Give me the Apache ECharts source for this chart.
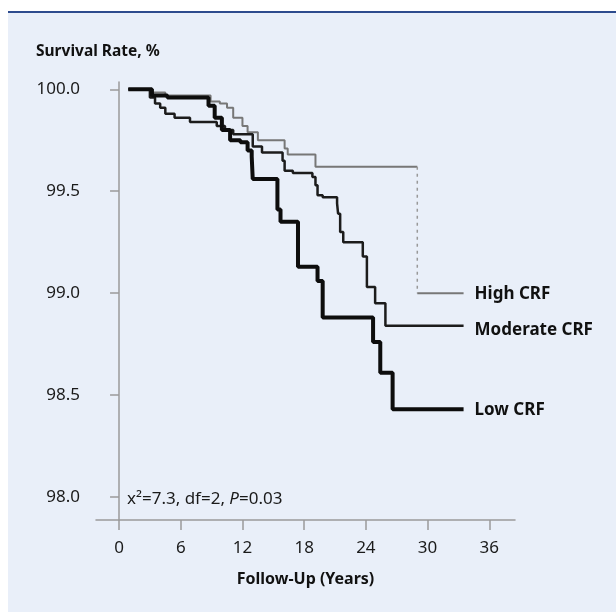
<!DOCTYPE html>
<html>
<head>
<meta charset="utf-8">
<script src="https://cdn.jsdelivr.net/npm/echarts@6/dist/echarts.min.js"></script>
<style>
  html, body { margin: 0; padding: 0; background: #fff; }
  .chart { width: 616px; height: 612px; }
</style>
</head>
<body>
<div class="chart"></div>
<script>
// 生存曲线数据（年份, 生存率%）
var lowYears = [0.9, 3.2, 4.7, 8.7, 9.3, 10.0, 10.8, 11.8, 12.5, 12.9, 13.0, 15.4, 15.7, 17.4, 19.3, 19.8, 24.7, 25.4, 26.6, 33.5];
var lowSurv  = [100.0, 99.97, 99.96, 99.92, 99.86, 99.80, 99.75, 99.74, 99.70, 99.67, 99.56, 99.41, 99.35, 99.13, 99.06, 98.88, 98.76, 98.61, 98.43, 98.43];

var modYears = [0.9, 3.0, 3.5, 4.0, 4.5, 5.4, 6.9, 9.5, 10.3, 11.1, 13.0, 13.9, 15.9, 16.1, 16.9, 18.8, 19.1, 19.3, 19.8, 21.2, 21.3, 21.5, 21.8, 23.7, 24.1, 24.9, 25.9, 33.5];
var modSurv  = [100.0, 99.96, 99.93, 99.91, 99.88, 99.86, 99.84, 99.82, 99.80, 99.78, 99.72, 99.69, 99.65, 99.60, 99.59, 99.57, 99.53, 99.48, 99.47, 99.44, 99.39, 99.30, 99.25, 99.18, 99.03, 98.95, 98.84, 98.84];

var highYears = [0.9, 3.2, 4.5, 8.9, 9.8, 10.5, 11.1, 12.0, 12.5, 13.5, 16.1, 16.4, 19.1, 29.0, 33.5];
var highSurv  = [100.0, 99.985, 99.97, 99.94, 99.93, 99.91, 99.86, 99.82, 99.79, 99.75, 99.71, 99.68, 99.62, 99.00, 99.00];

var xTicks = [0, 6, 12, 18, 24, 30, 36];
var yTicks = [98.0, 98.5, 99.0, 99.5, 100.0];

function pairs(xs, ys) {
    var out = [];
    for (var i = 0; i < xs.length; i++) out.push([xs[i], ys[i]]);
    return out;
}

// High CRF 拆成三段：实线主体、虚线下降、末端水平
var k = highYears.length - 2;
var highMain = pairs(highYears.slice(0, k), highSurv.slice(0, k));
highMain.push([highYears[k], highSurv[k - 1]]);
var highDrop = [[highYears[k], highSurv[k - 1]], [highYears[k], highSurv[k]]];
var highTail = [[highYears[k], highSurv[k]], [highYears[k + 1], highSurv[k + 1]]];

var labelFont = { fontFamily: 'Noto Sans', fontWeight: 'bold', fontSize: 17, color: '#111' };

var myChart = echarts.init(document.querySelector('.chart'));
var option = {
    animation: false,
    graphic: [
        { type: 'rect', shape: { x: 8, y: 12, width: 608, height: 600 }, style: { fill: '#e9eff9' }, z: -10 },
        { type: 'rect', shape: { x: 8, y: 11, width: 608, height: 2 }, style: { fill: '#2d4b8e' }, z: -9 }
    ],
    title: [
        {
            text: 'Survival Rate, %',
            left: 31, top: 39,
            textStyle: { fontFamily: 'Noto Sans', fontWeight: 'bold', fontSize: 15.5, color: '#111' }
        },
        {
            text: '{n|x²=7.3, df=2, }{i|P}{n|=0.03}',
            left: 122, top: 486,
            textStyle: {
                fontWeight: 'normal',
                rich: {
                    n: { fontFamily: 'Noto Sans', fontWeight: 'normal', fontSize: 17, color: '#1a1a1a' },
                    i: { fontFamily: 'Noto Sans', fontWeight: 'normal', fontSize: 17, fontStyle: 'italic', color: '#1a1a1a' }
                }
            }
        }
    ],
    grid: { left: 96, right: 101, top: 82, bottom: 92 },
    xAxis: {
        type: 'value',
        min: -2.24, max: 38.5,
        splitLine: { show: false },
        axisLine: { lineStyle: { color: '#9a9a9a', width: 1.5 } },
        axisTick: { customValues: xTicks, length: 10, lineStyle: { color: '#9a9a9a', width: 1.5 } },
        axisLabel: { customValues: xTicks, margin: 20, fontFamily: 'Noto Sans', fontSize: 17, color: '#1a1a1a' },
        name: 'Follow-Up (Years)',
        nameLocation: 'middle',
        nameGap: 51,
        nameTextStyle: { fontFamily: 'Noto Sans', fontWeight: 'bold', fontSize: 16, color: '#111' }
    },
    yAxis: {
        type: 'value',
        min: 97.887, max: 100.036,
        splitLine: { show: false },
        axisLine: { show: true, lineStyle: { color: '#9a9a9a', width: 1.5 } },
        axisTick: { show: true, customValues: yTicks, length: 9, lineStyle: { color: '#9a9a9a', width: 1.5 } },
        axisLabel: {
            customValues: yTicks, margin: 16, fontFamily: 'Noto Sans', fontSize: 17, color: '#1a1a1a',
            formatter: function (v) { return v.toFixed(1); }
        }
    },
    series: [
        {
            name: 'High CRF main', type: 'line', step: 'end', data: highMain, showSymbol: false,
            lineStyle: { color: '#777', width: 2 }, z: 2
        },
        {
            name: 'High CRF drop', type: 'line', data: highDrop, showSymbol: false,
            lineStyle: { color: '#999', width: 1.5, type: [3, 4] }, z: 2
        },
        {
            name: 'High CRF', type: 'line', data: highTail, showSymbol: false,
            lineStyle: { color: '#777', width: 2 }, z: 2,
            endLabel: { show: true, formatter: '{a}', distance: 11, offset: [0, 1], ...labelFont }
        },
        {
            name: 'Moderate CRF', type: 'line', step: 'end', data: pairs(modYears, modSurv), showSymbol: false,
            lineStyle: { color: '#1c1c1c', width: 2.5 }, z: 3,
            endLabel: { show: true, formatter: '{a}', distance: 11, offset: [0, 4], ...labelFont }
        },
        {
            name: 'Low CRF', type: 'line', step: 'end', data: pairs(lowYears, lowSurv), showSymbol: false,
            lineStyle: { color: '#0d0d0d', width: 4 }, z: 4,
            endLabel: { show: true, formatter: '{a}', distance: 11, offset: [0, 1], ...labelFont }
        }
    ]
};
myChart.setOption(option);
</script>
</body>
</html>
